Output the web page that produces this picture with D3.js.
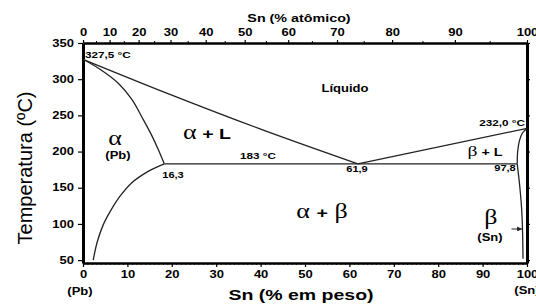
<!DOCTYPE html>
<html>
<head>
<meta charset="utf-8">
<script src="https://cdn.jsdelivr.net/npm/d3@7"></script>
<style>
  body { margin: 0; background: #fff; }
</style>
</head>
<body>
<div id="chart"></div>
<script>
// Pb-Sn phase diagram, points as [wt% Sn, temperature °C]
const liquidusLeft = [[0, 327.5], [20, 278], [40, 231], [61.9, 183]]
const liquidusRight = [[61.9, 183], [100, 232]]
const solidusLeft = [[0, 327.5], [4, 313], [8, 294], [11, 272], [13.5, 245], [15.5, 222], [17, 202], [18.3, 183]]
const solvusLeft = [[18.3, 183], [14.5, 172], [11, 157], [8.3, 138], [6.2, 118], [4.5, 98], [3.2, 75], [2.3, 50]]
const solidusRight = [[100, 232], [99, 226], [98.3, 215], [97.9, 200], [97.8, 183]]
const solvusRight = [[97.8, 183], [98.4, 150], [98.8, 120], [99, 90], [99.1, 52]]
const eutectic = [[18.3, 183], [97.8, 183]]
const arrowSn = [[96.5, 93], [98.9, 93]]

const wtTicks = d3.range(0, 101, 10)
const atTicks = d3.range(0, 101, 10)
const atMinor = d3.range(5, 100, 10)
const tempTicks = [50, 100, 150, 200, 250, 300, 350]

// atomic % Sn -> weight % Sn
const atToWt = a => 100 * a * 118.71 / (a * 118.71 + (100 - a) * 207.2)

const width = 536
const height = 304
const SX = 1.3   // the original picture is stretched sideways

const x = d3.scaleLinear().domain([0, 100]).range([83, 527])
const y = d3.scaleLinear().domain([46, 350]).range([263, 43])

const svg = d3.select('#chart')
  .append('svg')
  .attr('width', width)
  .attr('height', height)

const stretch = function () {
  const w = this.getComputedTextLength()
  d3.select(this).attr('textLength', w * SX).attr('lengthAdjust', 'spacingAndGlyphs')
}

const label = (px, py, str, size, opts = {}) => {
  const t = svg.append('text')
    .attr('x', px)
    .attr('y', py)
    .attr('text-anchor', opts.anchor || 'middle')
    .style('font-family', opts.serif ? '"Liberation Serif", serif' : '"Liberation Sans", Arial, sans-serif')
    .style('font-weight', opts.weight || 'bold')
    .style('font-size', size + 'px')
    .text(str)
  t.each(stretch)
  return t
}

const styleAxis = (g, lw) => {
  g.select('.domain').attr('stroke', '#000').attr('stroke-width', lw)
  g.selectAll('.tick line').attr('stroke', '#000').attr('stroke-width', 1.2)
  g.selectAll('.tick text')
    .style('font-family', '"Liberation Sans", Arial, sans-serif')
    .style('font-weight', 'bold')
    .style('font-size', '10px')
    .attr('fill', '#000')
    .each(stretch)
}

// bottom axis: weight %
svg.append('g')
  .attr('transform', `translate(0,${y(46)})`)
  .call(d3.axisBottom(x).tickValues(d3.range(0, 101, 1)).tickSize(2).tickSizeOuter(0).tickFormat(''))
  .call(g => g.select('.domain').remove())
  .call(g => g.selectAll('.tick line').attr('stroke', '#000').attr('stroke-width', 0.8))
svg.append('g')
  .attr('transform', `translate(0,${y(46)})`)
  .call(d3.axisBottom(x).tickValues(wtTicks).tickSize(4).tickPadding(4).tickSizeOuter(0))
  .call(g => styleAxis(g, 2.6))

// top axis: atomic %
svg.append('g')
  .attr('transform', `translate(0,${y(350)})`)
  .call(d3.axisTop(x).tickValues(atMinor.map(atToWt)).tickSize(2).tickSizeOuter(0).tickFormat(''))
  .call(g => g.select('.domain').remove())
  .call(g => g.selectAll('.tick line').attr('stroke', '#000'))
svg.append('g')
  .attr('transform', `translate(0,${y(350)})`)
  .call(d3.axisTop(x).tickValues(atTicks.map(atToWt)).tickSize(3).tickPadding(4).tickSizeOuter(0)
    .tickFormat((d, i) => atTicks[i]))
  .call(g => styleAxis(g, 2.6))

// left axis: temperature
svg.append('g')
  .attr('transform', `translate(${x(0)},0)`)
  .call(d3.axisLeft(y).tickValues(tempTicks).tickSize(5).tickPadding(4).tickSizeOuter(0))
  .call(g => styleAxis(g, 3))

// right axis
svg.append('g')
  .attr('transform', `translate(${x(100)},0)`)
  .call(d3.axisRight(y).tickValues(tempTicks).tickSize(3).tickSizeOuter(0).tickFormat(''))
  .call(g => styleAxis(g, 3))

// phase boundaries
const line = d3.line()
  .x(d => x(d[0]))
  .y(d => y(d[1]))
  .curve(d3.curveCatmullRom.alpha(0.5))

const curves = [liquidusLeft, liquidusRight, solidusLeft, solvusLeft, solidusRight, solvusRight, eutectic]
svg.selectAll('.boundary')
  .data(curves)
  .enter()
  .append('path')
  .attr('class', 'boundary')
  .attr('d', line)
  .attr('fill', 'none')
  .attr('stroke', '#222')
  .attr('stroke-width', 1.3)

// arrow to the beta solvus
svg.append('defs').append('marker')
  .attr('id', 'head')
  .attr('viewBox', '0 0 10 10')
  .attr('refX', 10).attr('refY', 5)
  .attr('markerWidth', 5).attr('markerHeight', 5)
  .attr('orient', 'auto')
  .append('path')
  .attr('d', 'M0,0L10,5L0,10z')
  .attr('fill', '#222')
svg.append('path')
  .attr('d', d3.line().x(d => x(d[0])).y(d => y(d[1]))(arrowSn))
  .attr('stroke', '#222')
  .attr('stroke-width', 1)
  .attr('marker-end', 'url(#head)')

// axis titles
label(299, 22, 'Sn (% atômico)', 11)
label(301, 300, 'Sn (% em peso)', 15)
label(80, 295, '(Pb)', 10)
label(527, 294, '(Sn)', 10)
svg.append('text')
  .attr('transform', 'translate(32,168) rotate(-90)')
  .attr('text-anchor', 'middle')
  .style('font-family', '"Liberation Sans", Arial, sans-serif')
  .style('font-size', '21px')
  .attr('textLength', 153)
  .attr('lengthAdjust', 'spacingAndGlyphs')
  .text('Temperatura (ºC)')

// point labels
label(85, 58, '327,5 °C', 9, { anchor: 'start' })
label(525, 126, '232,0 °C', 9, { anchor: 'end' })
label(258, 159, '183 °C', 9)
label(173, 178, '16,3', 8.5)
label(357, 172, '61,9', 8.5)
label(505, 171, '97,8', 8.5)
label(345, 92, 'Líquido', 10)

// phase fields
label(115, 145, 'α', 20, { serif: true, weight: 'normal' })
label(118, 159, '(Pb)', 10)
label(490, 241, '(Sn)', 10)
label(491, 224, 'β', 20, { serif: true, weight: 'normal' })

const mixed = (px, py, a, b, sizeA, sizeB) => {
  const t = svg.append('text')
    .attr('x', px).attr('y', py)
    .attr('text-anchor', 'middle')
  t.append('tspan')
    .style('font-family', '"Liberation Serif", serif')
    .style('font-size', sizeA + 'px')
    .text(a)
  t.append('tspan')
    .style('font-family', '"Liberation Sans", Arial, sans-serif')
    .style('font-size', sizeB + 'px')
    .style('font-weight', 'bold')
    .text(b)
  t.each(stretch)
}
mixed(207, 139, 'α', ' + L', 20, 15)
mixed(485, 156, 'β', ' + L', 15, 11)

const ab = svg.append('text')
  .attr('x', 322).attr('y', 218)
  .attr('text-anchor', 'middle')
  .style('font-family', '"Liberation Serif", serif')
  .style('font-size', '20px')
ab.append('tspan').text('α ')
ab.append('tspan')
  .style('font-family', '"Liberation Sans", Arial, sans-serif')
  .style('font-weight', 'bold')
  .style('font-size', '15px')
  .text('+')
ab.append('tspan').text(' β')
ab.each(stretch)
</script>
</body>
</html>
